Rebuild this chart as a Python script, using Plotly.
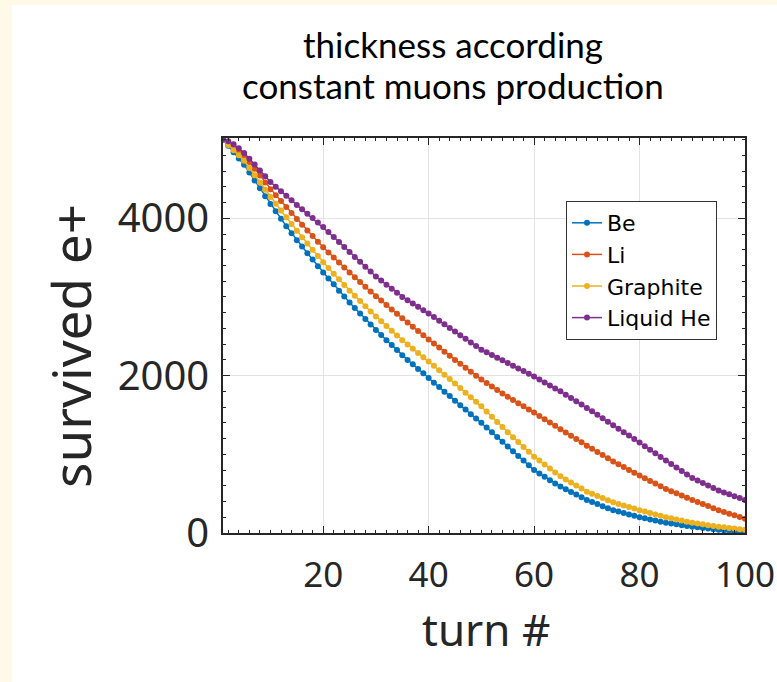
import plotly.graph_objects as go

turns = list(range(1, 101))

be = [5000, 4920, 4840, 4760, 4680, 4580, 4480, 4380, 4280, 4180,
      4090, 3995, 3900, 3810, 3720, 3640, 3555, 3475, 3390, 3310,
      3235, 3160, 3080, 3005, 2930, 2860, 2790, 2720, 2650, 2580,
      2515, 2450, 2390, 2325, 2260, 2200, 2145, 2085, 2030, 1970,
      1910, 1855, 1795, 1740, 1680, 1625, 1570, 1510, 1455, 1400,
      1340, 1280, 1220, 1160, 1100, 1040, 980, 920, 860, 800,
      755, 715, 670, 630, 590, 555, 520, 490, 455, 420,
      393, 367, 341, 315, 290, 272, 254, 236, 218, 200,
      186, 172, 158, 144, 130, 120, 110, 100, 90, 80,
      72, 64, 56, 48, 40, 34, 28, 22, 16, 10]

li = [5000, 4950, 4900, 4850, 4800, 4714, 4628, 4542, 4456, 4370,
      4294, 4218, 4142, 4066, 3990, 3918, 3846, 3774, 3702, 3630,
      3566, 3502, 3438, 3374, 3310, 3250, 3190, 3130, 3070, 3010,
      2954, 2898, 2842, 2786, 2730, 2676, 2622, 2568, 2514, 2460,
      2408, 2356, 2304, 2252, 2200, 2150, 2100, 2050, 2000, 1950,
      1906, 1862, 1818, 1774, 1730, 1690, 1650, 1610, 1570, 1530,
      1488, 1446, 1404, 1362, 1320, 1278, 1236, 1194, 1152, 1110,
      1070, 1030, 990, 950, 910, 874, 838, 802, 766, 730,
      696, 662, 628, 594, 560, 532, 504, 476, 448, 420,
      394, 368, 342, 316, 290, 268, 246, 224, 202, 180]

graphite = [5000, 4930, 4865, 4800, 4730, 4638, 4546, 4454, 4362, 4270,
            4184, 4098, 4012, 3926, 3840, 3760, 3680, 3600, 3520, 3440,
            3368, 3296, 3224, 3152, 3080, 3014, 2948, 2882, 2816, 2750,
            2690, 2630, 2570, 2510, 2450, 2396, 2342, 2288, 2234, 2180,
            2124, 2068, 2012, 1956, 1900, 1842, 1784, 1726, 1668, 1610,
            1544, 1478, 1412, 1346, 1280, 1218, 1156, 1094, 1032, 970,
            920, 870, 820, 770, 720, 681, 642, 603, 564, 525,
            498, 471, 444, 417, 390, 370, 350, 330, 310, 290,
            272, 254, 236, 218, 200, 186, 172, 158, 144, 130,
            120, 110, 100, 90, 80, 72, 64, 56, 48, 40]

liquid_he = [5000, 4980, 4940, 4890, 4830, 4756, 4682, 4608, 4534, 4460,
             4402, 4344, 4286, 4228, 4170, 4114, 4058, 4002, 3946, 3890,
             3826, 3762, 3698, 3634, 3570, 3508, 3446, 3384, 3322, 3260,
             3208, 3156, 3104, 3052, 3000, 2958, 2916, 2874, 2832, 2790,
             2744, 2698, 2652, 2606, 2560, 2514, 2468, 2422, 2376, 2330,
             2296, 2262, 2228, 2194, 2160, 2126, 2092, 2058, 2024, 1990,
             1952, 1914, 1876, 1838, 1800, 1758, 1716, 1674, 1632, 1590,
             1546, 1502, 1458, 1414, 1370, 1326, 1282, 1238, 1194, 1150,
             1104, 1058, 1012, 966, 920, 876, 832, 788, 744, 700,
             668, 636, 604, 572, 540, 516, 492, 468, 444, 420]

series_names = ["Be", "Li", "Graphite", "Liquid He"]
series_values = [be, li, graphite, liquid_he]
colors = ["#0072BD", "#D95319", "#EDB120", "#7E2F8E"]

x_tickvals = [20, 40, 60, 80, 100]
y_tickvals = [0, 2000, 4000]

title_lines = ["thickness according", "constant muons production"]
x_title = "turn #"
y_title = "survived e+"

fig = go.Figure()
for name, vals, c in zip(series_names, series_values, colors):
    fig.add_trace(go.Scatter(
        x=turns, y=vals, name=name, mode="lines+markers",
        line=dict(color=c, width=1.5),
        marker=dict(color=c, size=6),
    ))

L, R, T, B = 223, 32, 138, 149
W, H = 777, 682
pw = W - L - R
ph = H - T - B

def px_x(p):
    return (p - L) / pw

def px_y(p):
    return (H - B - p) / ph

cream = "#FFF9E8"
fig.add_shape(type="rect", xref="paper", yref="paper",
              x0=px_x(0), x1=px_x(12), y0=px_y(H), y1=px_y(0),
              fillcolor=cream, line=dict(width=0), layer="below")
fig.add_shape(type="rect", xref="paper", yref="paper",
              x0=px_x(0), x1=px_x(W), y0=px_y(5), y1=px_y(0),
              fillcolor=cream, line=dict(width=0), layer="below")

# Title lines
for txt, cy in zip(title_lines, [44, 85]):
    fig.add_annotation(text=txt, xref="paper", yref="paper",
                       x=px_x(453), y=px_y(cy), xanchor="center", yanchor="middle",
                       showarrow=False, font=dict(family="Lato", size=35, color="black"))

# Axis titles
fig.add_annotation(text=x_title, xref="paper", yref="paper",
                   x=px_x(486), y=px_y(629), xanchor="center", yanchor="middle",
                   showarrow=False, font=dict(family="Noto Sans", size=44, color="#262626"))
fig.add_annotation(text=y_title, xref="paper", yref="paper",
                   x=px_x(70), y=px_y(346), xanchor="center", yanchor="middle",
                   textangle=-90, showarrow=False,
                   font=dict(family="Noto Sans", size=53, color="#262626"))

axis_color = "#262626"

fig.update_layout(
    width=W, height=H,
    margin=dict(l=L, r=R, t=T, b=B, autoexpand=False),
    paper_bgcolor="white", plot_bgcolor="white",
    showlegend=True,
    legend=dict(x=px_x(566), y=px_y(201), xanchor="left", yanchor="top",
                bgcolor="white", bordercolor="#333333", borderwidth=1,
                font=dict(family="DejaVu Sans", size=22, color="black"),
                itemwidth=30, tracegroupgap=0),
    xaxis=dict(range=[1, 100], tickvals=x_tickvals, ticks="inside", ticklen=7,
               tickcolor=axis_color, showline=True, linecolor=axis_color, linewidth=1.5,
               mirror="allticks", showgrid=True, gridcolor="#E3E3E3", gridwidth=1,
               zeroline=False, tickfont=dict(family="Noto Sans", size=35, color="#262626"),
               ticklabelstandoff=10, ticklabeloverflow="allow", automargin=False,
               minor=dict(dtick=2, tick0=0, ticks="inside", ticklen=3, tickcolor=axis_color, showgrid=False)),
    yaxis=dict(range=[0, 5020], tickvals=y_tickvals, ticks="inside", ticklen=7,
               tickcolor=axis_color, showline=True, linecolor=axis_color, linewidth=1.5,
               mirror="allticks", showgrid=True, gridcolor="#E3E3E3", gridwidth=1,
               zeroline=False, tickfont=dict(family="Noto Sans", size=40, color="#262626"),
               ticklabelstandoff=4, ticklabeloverflow="allow", automargin=False,
               minor=dict(dtick=200, tick0=0, ticks="inside", ticklen=3, tickcolor=axis_color, showgrid=False)),
)

fig.write_html("out.html")
